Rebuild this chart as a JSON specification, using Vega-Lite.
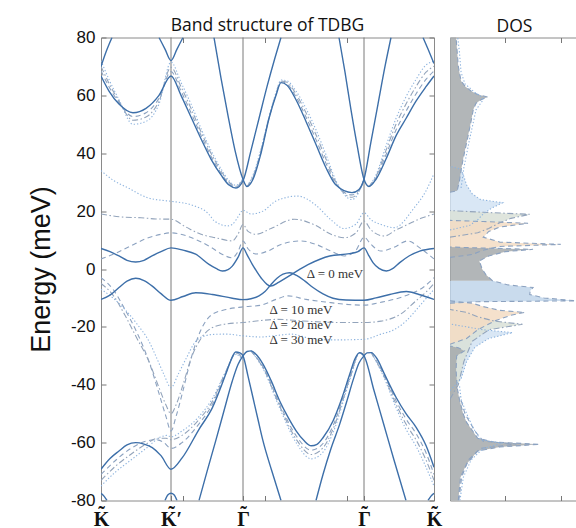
{
"$schema":"https://vega.github.io/schema/vega-lite/v6.json",
"padding":{"left":0,"top":16.5,"right":0,"bottom":0},
"spacing":6,
"config":{"view":{"stroke":"#8a8a8a","strokeWidth":1},"title":{"font":"Open Sans","fontSize":17.5,"fontWeight":"normal","color":"#111","offset":-6,"frame":"group","anchor":"middle"}},
"datasets":{
"bands":[
{"c":"s1","d":"0","q":0,"E":66.7},{"c":"s1","d":"0","q":8,"E":61.5},{"c":"s1","d":"0","q":18,"E":57},{"c":"s1","d":"0","q":32,"E":54},{"c":"s1","d":"0","q":45,"E":55.5},{"c":"s1","d":"0","q":58,"E":60},{"c":"s1","d":"0","q":70,"E":66.7},{"c":"s1","d":"0","q":80,"E":60},{"c":"s1","d":"0","q":90,"E":52.5},{"c":"s1","d":"0","q":100,"E":45},{"c":"s1","d":"0","q":110,"E":38},{"c":"s1","d":"0","q":120,"E":32.5},{"c":"s1","d":"0","q":128,"E":29},{"c":"s1","d":"0","q":135,"E":28},{"c":"s1","d":"0","q":142,"E":30.5},{"c":"s1","d":"0","q":150,"E":41},{"c":"s1","d":"0","q":158,"E":52},{"c":"s1","d":"0","q":166,"E":63},{"c":"s1","d":"0","q":174,"E":73},{"c":"s1","d":"0","q":180,"E":80},
{"c":"s2","d":"0","q":113,"E":80},{"c":"s2","d":"0","q":120,"E":66},{"c":"s2","d":"0","q":127,"E":53},{"c":"s2","d":"0","q":134,"E":41},{"c":"s2","d":"0","q":142,"E":31},{"c":"s2","d":"0","q":146,"E":28.5},{"c":"s2","d":"0","q":152,"E":31},{"c":"s2","d":"0","q":160,"E":40},{"c":"s2","d":"0","q":168,"E":52},{"c":"s2","d":"0","q":175,"E":60},{"c":"s2","d":"0","q":180,"E":64.4},{"c":"s2","d":"0","q":186,"E":63.5},{"c":"s2","d":"0","q":195,"E":58.5},{"c":"s2","d":"0","q":205,"E":51},{"c":"s2","d":"0","q":215,"E":43},{"c":"s2","d":"0","q":225,"E":35},{"c":"s2","d":"0","q":235,"E":29},{"c":"s2","d":"0","q":251,"E":26.4},{"c":"s2","d":"0","q":258,"E":27.5},{"c":"s2","d":"0","q":263,"E":31},{"c":"s2","d":"0","q":270,"E":44},{"c":"s2","d":"0","q":277,"E":57},{"c":"s2","d":"0","q":284,"E":70},{"c":"s2","d":"0","q":290,"E":80},
{"c":"s3","d":"0","q":238,"E":80},{"c":"s3","d":"0","q":244,"E":68},{"c":"s3","d":"0","q":250,"E":55},{"c":"s3","d":"0","q":256,"E":43},{"c":"s3","d":"0","q":263,"E":31},{"c":"s3","d":"0","q":268,"E":28.5},{"c":"s3","d":"0","q":275,"E":31},{"c":"s3","d":"0","q":285,"E":38},{"c":"s3","d":"0","q":295,"E":46},{"c":"s3","d":"0","q":305,"E":52},{"c":"s3","d":"0","q":315,"E":58},{"c":"s3","d":"0","q":325,"E":63},{"c":"s3","d":"0","q":333,"E":66.7},
{"c":"s4","d":"0","q":0,"E":70},{"c":"s4","d":"0","q":5,"E":75},{"c":"s4","d":"0","q":11,"E":80},
{"c":"s5","d":"0","q":58,"E":80},{"c":"s5","d":"0","q":64,"E":76},{"c":"s5","d":"0","q":70,"E":72},{"c":"s5","d":"0","q":76,"E":76},{"c":"s5","d":"0","q":82,"E":80},
{"c":"s6","d":"0","q":322,"E":80},{"c":"s6","d":"0","q":327,"E":76},{"c":"s6","d":"0","q":333,"E":71},
{"c":"s7","d":"0","q":0,"E":7.1},{"c":"s7","d":"0","q":9,"E":6},{"c":"s7","d":"0","q":18,"E":4.5},{"c":"s7","d":"0","q":26,"E":3},{"c":"s7","d":"0","q":34.7,"E":2.4},{"c":"s7","d":"0","q":43,"E":3},{"c":"s7","d":"0","q":51,"E":4.5},{"c":"s7","d":"0","q":60,"E":6},{"c":"s7","d":"0","q":70,"E":7.3},{"c":"s7","d":"0","q":82,"E":6.5},{"c":"s7","d":"0","q":94.7,"E":5.1},{"c":"s7","d":"0","q":108,"E":1.6},{"c":"s7","d":"0","q":115,"E":0.2},{"c":"s7","d":"0","q":121.3,"E":-0.7},{"c":"s7","d":"0","q":127,"E":-0.2},{"c":"s7","d":"0","q":131.3,"E":1},{"c":"s7","d":"0","q":137,"E":4},{"c":"s7","d":"0","q":142,"E":7.3},{"c":"s7","d":"0","q":146,"E":5},{"c":"s7","d":"0","q":151.3,"E":1.6},{"c":"s7","d":"0","q":156,"E":-1},{"c":"s7","d":"0","q":161.3,"E":-3.6},{"c":"s7","d":"0","q":166,"E":-5.3},{"c":"s7","d":"0","q":169.7,"E":-5.9},{"c":"s7","d":"0","q":178,"E":-4.5},{"c":"s7","d":"0","q":190,"E":-2},{"c":"s7","d":"0","q":207,"E":1.5},{"c":"s7","d":"0","q":228.7,"E":4.5},{"c":"s7","d":"0","q":248.7,"E":5.3},{"c":"s7","d":"0","q":257,"E":6},{"c":"s7","d":"0","q":263,"E":7.3},{"c":"s7","d":"0","q":268,"E":4.5},{"c":"s7","d":"0","q":272,"E":2.2},{"c":"s7","d":"0","q":278,"E":0.2},{"c":"s7","d":"0","q":285.3,"E":-0.7},{"c":"s7","d":"0","q":292,"E":0.2},{"c":"s7","d":"0","q":298.7,"E":2.2},{"c":"s7","d":"0","q":308,"E":4.5},{"c":"s7","d":"0","q":318.7,"E":6.2},{"c":"s7","d":"0","q":333,"E":7.1},
{"c":"s8","d":"0","q":0,"E":-10.5},{"c":"s8","d":"0","q":9,"E":-9},{"c":"s8","d":"0","q":18,"E":-6.4},{"c":"s8","d":"0","q":26,"E":-4.2},{"c":"s8","d":"0","q":34.7,"E":-3.2},{"c":"s8","d":"0","q":43,"E":-4},{"c":"s8","d":"0","q":51.3,"E":-5.9},{"c":"s8","d":"0","q":60,"E":-8.5},{"c":"s8","d":"0","q":70,"E":-10.8},{"c":"s8","d":"0","q":82,"E":-9.5},{"c":"s8","d":"0","q":94.7,"E":-8.2},{"c":"s8","d":"0","q":111.3,"E":-8.8},{"c":"s8","d":"0","q":131.3,"E":-10.1},{"c":"s8","d":"0","q":142,"E":-10.6},{"c":"s8","d":"0","q":150,"E":-10.3},{"c":"s8","d":"0","q":158,"E":-9.3},{"c":"s8","d":"0","q":164,"E":-7.8},{"c":"s8","d":"0","q":169.7,"E":-5.5},{"c":"s8","d":"0","q":176,"E":-3.2},{"c":"s8","d":"0","q":182,"E":-1.8},{"c":"s8","d":"0","q":188.7,"E":-1.3},{"c":"s8","d":"0","q":196,"E":-2.3},{"c":"s8","d":"0","q":204,"E":-4.2},{"c":"s8","d":"0","q":212,"E":-6.4},{"c":"s8","d":"0","q":222,"E":-8.6},{"c":"s8","d":"0","q":232,"E":-10.1},{"c":"s8","d":"0","q":245,"E":-10.7},{"c":"s8","d":"0","q":263,"E":-10.8},{"c":"s8","d":"0","q":275,"E":-10},{"c":"s8","d":"0","q":288.7,"E":-8.8},{"c":"s8","d":"0","q":305.3,"E":-7.8},{"c":"s8","d":"0","q":318,"E":-8.8},{"c":"s8","d":"0","q":333,"E":-10.5},
{"c":"s9","d":"0","q":0,"E":-69.2},{"c":"s9","d":"0","q":9,"E":-65.5},{"c":"s9","d":"0","q":18,"E":-62.9},{"c":"s9","d":"0","q":26,"E":-60.8},{"c":"s9","d":"0","q":34.7,"E":-60},{"c":"s9","d":"0","q":43,"E":-60.5},{"c":"s9","d":"0","q":51.3,"E":-61.7},{"c":"s9","d":"0","q":60,"E":-64.5},{"c":"s9","d":"0","q":70,"E":-69.2},{"c":"s9","d":"0","q":81.3,"E":-65.2},{"c":"s9","d":"0","q":98,"E":-55.4},{"c":"s9","d":"0","q":111.3,"E":-48},{"c":"s9","d":"0","q":124.7,"E":-36.4},{"c":"s9","d":"0","q":130,"E":-31.5},{"c":"s9","d":"0","q":134.7,"E":-28.7},{"c":"s9","d":"0","q":139,"E":-29},{"c":"s9","d":"0","q":142,"E":-30},{"c":"s9","d":"0","q":147,"E":-37},{"c":"s9","d":"0","q":152,"E":-44.5},{"c":"s9","d":"0","q":157,"E":-52},{"c":"s9","d":"0","q":162,"E":-59.4},{"c":"s9","d":"0","q":171,"E":-70},{"c":"s9","d":"0","q":180,"E":-80},
{"c":"s10","d":"0","q":98,"E":-80},{"c":"s10","d":"0","q":106,"E":-70},{"c":"s10","d":"0","q":114.7,"E":-59.4},{"c":"s10","d":"0","q":123,"E":-49},{"c":"s10","d":"0","q":131.3,"E":-38.7},{"c":"s10","d":"0","q":137,"E":-33},{"c":"s10","d":"0","q":142,"E":-30},{"c":"s10","d":"0","q":146,"E":-28.5},{"c":"s10","d":"0","q":150,"E":-28.3},{"c":"s10","d":"0","q":155,"E":-29.5},{"c":"s10","d":"0","q":162,"E":-32.9},{"c":"s10","d":"0","q":170,"E":-38.5},{"c":"s10","d":"0","q":178.7,"E":-45.6},{"c":"s10","d":"0","q":187,"E":-51.2},{"c":"s10","d":"0","q":195.3,"E":-56},{"c":"s10","d":"0","q":203,"E":-59.3},{"c":"s10","d":"0","q":210.3,"E":-61.1},{"c":"s10","d":"0","q":216,"E":-60.6},{"c":"s10","d":"0","q":222,"E":-58.3},{"c":"s10","d":"0","q":232,"E":-52.5},{"c":"s10","d":"0","q":240,"E":-45.5},{"c":"s10","d":"0","q":248.7,"E":-36.4},{"c":"s10","d":"0","q":254,"E":-31},{"c":"s10","d":"0","q":258.7,"E":-28.9},{"c":"s10","d":"0","q":263,"E":-30},{"c":"s10","d":"0","q":273,"E":-42},{"c":"s10","d":"0","q":283,"E":-54},{"c":"s10","d":"0","q":293,"E":-66},{"c":"s10","d":"0","q":305,"E":-80},
{"c":"s11","d":"0","q":215,"E":-80},{"c":"s11","d":"0","q":222,"E":-71},{"c":"s11","d":"0","q":230,"E":-62},{"c":"s11","d":"0","q":238.7,"E":-53.6},{"c":"s11","d":"0","q":246,"E":-45.5},{"c":"s11","d":"0","q":252,"E":-38.5},{"c":"s11","d":"0","q":258,"E":-32.5},{"c":"s11","d":"0","q":263,"E":-30},{"c":"s11","d":"0","q":266,"E":-29},{"c":"s11","d":"0","q":270.3,"E":-28.9},{"c":"s11","d":"0","q":276,"E":-31},{"c":"s11","d":"0","q":283,"E":-36},{"c":"s11","d":"0","q":295.3,"E":-44.5},{"c":"s11","d":"0","q":305,"E":-50},{"c":"s11","d":"0","q":315.3,"E":-54.8},{"c":"s11","d":"0","q":325,"E":-61},{"c":"s11","d":"0","q":333,"E":-68.5},
{"c":"s12","d":"0","q":0,"E":-77.5},{"c":"s12","d":"0","q":3,"E":-78.5},{"c":"s12","d":"0","q":6,"E":-80},
{"c":"s13","d":"0","q":64,"E":-80},{"c":"s13","d":"0","q":67,"E":-78},{"c":"s13","d":"0","q":70,"E":-77.5},{"c":"s13","d":"0","q":73,"E":-78},{"c":"s13","d":"0","q":76,"E":-80},
{"c":"s14","d":"0","q":327,"E":-80},{"c":"s14","d":"0","q":330,"E":-78.5},{"c":"s14","d":"0","q":333,"E":-77.5},
{"c":"u10","d":"10","q":0,"E":3.5},{"c":"u10","d":"10","q":15,"E":5.5},{"c":"u10","d":"10","q":30,"E":8},{"c":"u10","d":"10","q":45,"E":10.5},{"c":"u10","d":"10","q":60,"E":12},{"c":"u10","d":"10","q":70,"E":12.5},{"c":"u10","d":"10","q":85,"E":11.5},{"c":"u10","d":"10","q":98,"E":9.7},{"c":"u10","d":"10","q":110,"E":7.5},{"c":"u10","d":"10","q":121,"E":5.1},{"c":"u10","d":"10","q":131,"E":3.9},{"c":"u10","d":"10","q":137,"E":6},{"c":"u10","d":"10","q":142,"E":9.7},{"c":"u10","d":"10","q":147,"E":7},{"c":"u10","d":"10","q":155,"E":5.2},{"c":"u10","d":"10","q":166.7,"E":6.2},{"c":"u10","d":"10","q":180,"E":8.5},{"c":"u10","d":"10","q":200,"E":9.7},{"c":"u10","d":"10","q":215,"E":8.5},{"c":"u10","d":"10","q":230,"E":6.2},{"c":"u10","d":"10","q":243.3,"E":4.5},{"c":"u10","d":"10","q":255,"E":6.5},{"c":"u10","d":"10","q":263,"E":11},{"c":"u10","d":"10","q":270,"E":8.5},{"c":"u10","d":"10","q":280,"E":6.2},{"c":"u10","d":"10","q":293,"E":7.5},{"c":"u10","d":"10","q":306.7,"E":9.7},{"c":"u10","d":"10","q":320,"E":7},{"c":"u10","d":"10","q":333,"E":3.5},
{"c":"u20","d":"20","q":0,"E":19},{"c":"u20","d":"20","q":20,"E":18},{"c":"u20","d":"20","q":40,"E":17.7},{"c":"u20","d":"20","q":55,"E":17.3},{"c":"u20","d":"20","q":70,"E":17.2},{"c":"u20","d":"20","q":85,"E":14.5},{"c":"u20","d":"20","q":100,"E":12},{"c":"u20","d":"20","q":114.7,"E":10.8},{"c":"u20","d":"20","q":131.3,"E":9.7},{"c":"u20","d":"20","q":137,"E":12},{"c":"u20","d":"20","q":142,"E":15.4},{"c":"u20","d":"20","q":147,"E":13},{"c":"u20","d":"20","q":155,"E":12},{"c":"u20","d":"20","q":170,"E":14},{"c":"u20","d":"20","q":193.3,"E":17.2},{"c":"u20","d":"20","q":215,"E":15},{"c":"u20","d":"20","q":230,"E":12},{"c":"u20","d":"20","q":243.3,"E":10.8},{"c":"u20","d":"20","q":255,"E":12.5},{"c":"u20","d":"20","q":263,"E":16.6},{"c":"u20","d":"20","q":270,"E":13.5},{"c":"u20","d":"20","q":283.3,"E":11.4},{"c":"u20","d":"20","q":295,"E":13.5},{"c":"u20","d":"20","q":306.7,"E":15.4},{"c":"u20","d":"20","q":320,"E":17.5},{"c":"u20","d":"20","q":333,"E":19},
{"c":"u30","d":"30","q":0,"E":34},{"c":"u30","d":"30","q":13,"E":30.5},{"c":"u30","d":"30","q":26.7,"E":28.1},{"c":"u30","d":"30","q":46.7,"E":24.6},{"c":"u30","d":"30","q":64.7,"E":23.6},{"c":"u30","d":"30","q":70,"E":23.4},{"c":"u30","d":"30","q":93.3,"E":21.8},{"c":"u30","d":"30","q":108,"E":18.9},{"c":"u30","d":"30","q":113.3,"E":16.6},{"c":"u30","d":"30","q":126.7,"E":14.9},{"c":"u30","d":"30","q":131.3,"E":15.4},{"c":"u30","d":"30","q":137,"E":18},{"c":"u30","d":"30","q":142,"E":20.3},{"c":"u30","d":"30","q":150,"E":19},{"c":"u30","d":"30","q":162,"E":20},{"c":"u30","d":"30","q":175,"E":23.5},{"c":"u30","d":"30","q":196.7,"E":25.2},{"c":"u30","d":"30","q":215,"E":22},{"c":"u30","d":"30","q":230,"E":17},{"c":"u30","d":"30","q":243,"E":14},{"c":"u30","d":"30","q":255,"E":15.5},{"c":"u30","d":"30","q":263,"E":19.4},{"c":"u30","d":"30","q":270,"E":17},{"c":"u30","d":"30","q":280,"E":15.4},{"c":"u30","d":"30","q":293.3,"E":14.3},{"c":"u30","d":"30","q":313.3,"E":21.2},{"c":"u30","d":"30","q":325,"E":27},{"c":"u30","d":"30","q":333,"E":33},
{"c":"l10","d":"10","q":0,"E":-3},{"c":"l10","d":"10","q":12,"E":-7},{"c":"l10","d":"10","q":24,"E":-14},{"c":"l10","d":"10","q":36,"E":-22},{"c":"l10","d":"10","q":48,"E":-32},{"c":"l10","d":"10","q":58,"E":-43},{"c":"l10","d":"10","q":65,"E":-51},{"c":"l10","d":"10","q":70,"E":-56},{"c":"l10","d":"10","q":75,"E":-51},{"c":"l10","d":"10","q":82,"E":-42},{"c":"l10","d":"10","q":90,"E":-31},{"c":"l10","d":"10","q":100,"E":-21},{"c":"l10","d":"10","q":110,"E":-16},{"c":"l10","d":"10","q":125,"E":-14},{"c":"l10","d":"10","q":142,"E":-13.1},{"c":"l10","d":"10","q":160,"E":-12.5},{"c":"l10","d":"10","q":175,"E":-10.5},{"c":"l10","d":"10","q":187,"E":-9.3},{"c":"l10","d":"10","q":205,"E":-10.5},{"c":"l10","d":"10","q":226.7,"E":-11.5},{"c":"l10","d":"10","q":245,"E":-12.2},{"c":"l10","d":"10","q":263,"E":-12.5},{"c":"l10","d":"10","q":280,"E":-11.5},{"c":"l10","d":"10","q":293,"E":-10.5},{"c":"l10","d":"10","q":310,"E":-8.5},{"c":"l10","d":"10","q":322,"E":-6.4},{"c":"l10","d":"10","q":333,"E":-3},
{"c":"l20","d":"20","q":0,"E":-5},{"c":"l20","d":"20","q":12,"E":-9},{"c":"l20","d":"20","q":24,"E":-16},{"c":"l20","d":"20","q":36,"E":-24},{"c":"l20","d":"20","q":48,"E":-32},{"c":"l20","d":"20","q":58,"E":-41},{"c":"l20","d":"20","q":65,"E":-47},{"c":"l20","d":"20","q":70,"E":-50},{"c":"l20","d":"20","q":75,"E":-47},{"c":"l20","d":"20","q":82,"E":-40},{"c":"l20","d":"20","q":90,"E":-31},{"c":"l20","d":"20","q":100,"E":-24},{"c":"l20","d":"20","q":110,"E":-20.5},{"c":"l20","d":"20","q":125,"E":-19},{"c":"l20","d":"20","q":142,"E":-18.5},{"c":"l20","d":"20","q":160,"E":-17.8},{"c":"l20","d":"20","q":176.7,"E":-17.4},{"c":"l20","d":"20","q":195,"E":-17.8},{"c":"l20","d":"20","q":220,"E":-18.3},{"c":"l20","d":"20","q":245,"E":-18.5},{"c":"l20","d":"20","q":263,"E":-18.5},{"c":"l20","d":"20","q":280,"E":-18},{"c":"l20","d":"20","q":300,"E":-15.5},{"c":"l20","d":"20","q":315,"E":-11},{"c":"l20","d":"20","q":325,"E":-8},{"c":"l20","d":"20","q":333,"E":-5},
{"c":"l30","d":"30","q":0,"E":-7},{"c":"l30","d":"30","q":12,"E":-10},{"c":"l30","d":"30","q":24,"E":-14},{"c":"l30","d":"30","q":36,"E":-19},{"c":"l30","d":"30","q":48,"E":-25},{"c":"l30","d":"30","q":56,"E":-31},{"c":"l30","d":"30","q":63,"E":-36.5},{"c":"l30","d":"30","q":70,"E":-41},{"c":"l30","d":"30","q":77,"E":-36.5},{"c":"l30","d":"30","q":85,"E":-31},{"c":"l30","d":"30","q":94.7,"E":-25},{"c":"l30","d":"30","q":105,"E":-23},{"c":"l30","d":"30","q":113,"E":-22.6},{"c":"l30","d":"30","q":125,"E":-22.5},{"c":"l30","d":"30","q":142,"E":-23.1},{"c":"l30","d":"30","q":160,"E":-23.5},{"c":"l30","d":"30","q":175,"E":-23},{"c":"l30","d":"30","q":190,"E":-22.5},{"c":"l30","d":"30","q":210,"E":-24},{"c":"l30","d":"30","q":235,"E":-24.5},{"c":"l30","d":"30","q":263,"E":-24.3},{"c":"l30","d":"30","q":280,"E":-22.5},{"c":"l30","d":"30","q":293,"E":-21},{"c":"l30","d":"30","q":305,"E":-18},{"c":"l30","d":"30","q":318,"E":-13},{"c":"l30","d":"30","q":333,"E":-7},
{"c":"a10","d":"10","q":0,"E":68.5},{"c":"a10","d":"10","q":8,"E":63},{"c":"a10","d":"10","q":18,"E":57.5},{"c":"a10","d":"10","q":32,"E":52.7},{"c":"a10","d":"10","q":45,"E":54},{"c":"a10","d":"10","q":58,"E":59},{"c":"a10","d":"10","q":70,"E":68.2},{"c":"a10","d":"10","q":80,"E":61.5},{"c":"a10","d":"10","q":90,"E":54},{"c":"a10","d":"10","q":100,"E":46.2},{"c":"a10","d":"10","q":110,"E":39},{"c":"a10","d":"10","q":120,"E":33.2},{"c":"a10","d":"10","q":128,"E":29.5},{"c":"a10","d":"10","q":135,"E":28.3},{"c":"a10","d":"10","q":142,"E":30.8},
{"c":"a20","d":"20","q":0,"E":70},{"c":"a20","d":"20","q":8,"E":64.2},{"c":"a20","d":"20","q":18,"E":58},{"c":"a20","d":"20","q":32,"E":51.4},{"c":"a20","d":"20","q":45,"E":52.5},{"c":"a20","d":"20","q":58,"E":58},{"c":"a20","d":"20","q":70,"E":69.7},{"c":"a20","d":"20","q":80,"E":63},{"c":"a20","d":"20","q":90,"E":55.5},{"c":"a20","d":"20","q":100,"E":47.4},{"c":"a20","d":"20","q":110,"E":40},{"c":"a20","d":"20","q":120,"E":33.9},{"c":"a20","d":"20","q":128,"E":30},{"c":"a20","d":"20","q":135,"E":28.6},{"c":"a20","d":"20","q":142,"E":31},
{"c":"a30","d":"30","q":0,"E":72},{"c":"a30","d":"30","q":8,"E":65.5},{"c":"a30","d":"30","q":18,"E":58.5},{"c":"a30","d":"30","q":32,"E":50},{"c":"a30","d":"30","q":45,"E":51},{"c":"a30","d":"30","q":58,"E":57},{"c":"a30","d":"30","q":70,"E":71.5},{"c":"a30","d":"30","q":80,"E":64.5},{"c":"a30","d":"30","q":90,"E":57},{"c":"a30","d":"30","q":100,"E":48.6},{"c":"a30","d":"30","q":110,"E":41},{"c":"a30","d":"30","q":120,"E":34.6},{"c":"a30","d":"30","q":128,"E":30.5},{"c":"a30","d":"30","q":135,"E":28.9},{"c":"a30","d":"30","q":142,"E":31.2},
{"c":"b10","d":"10","q":146,"E":28.5},{"c":"b10","d":"10","q":152,"E":31.5},{"c":"b10","d":"10","q":160,"E":40.5},{"c":"b10","d":"10","q":168,"E":52.2},{"c":"b10","d":"10","q":175,"E":60.3},{"c":"b10","d":"10","q":180,"E":64.7},{"c":"b10","d":"10","q":186,"E":64},{"c":"b10","d":"10","q":195,"E":59.5},{"c":"b10","d":"10","q":205,"E":52.5},{"c":"b10","d":"10","q":215,"E":44.7},{"c":"b10","d":"10","q":225,"E":36.5},{"c":"b10","d":"10","q":235,"E":29.5},{"c":"b10","d":"10","q":251,"E":25.6},{"c":"b10","d":"10","q":258,"E":27.2},{"c":"b10","d":"10","q":263,"E":31},
{"c":"b20","d":"20","q":146,"E":28.5},{"c":"b20","d":"20","q":152,"E":32},{"c":"b20","d":"20","q":160,"E":41},{"c":"b20","d":"20","q":168,"E":52.4},{"c":"b20","d":"20","q":175,"E":60.6},{"c":"b20","d":"20","q":180,"E":65},{"c":"b20","d":"20","q":186,"E":64.5},{"c":"b20","d":"20","q":195,"E":60.5},{"c":"b20","d":"20","q":205,"E":54},{"c":"b20","d":"20","q":215,"E":46.4},{"c":"b20","d":"20","q":225,"E":38},{"c":"b20","d":"20","q":235,"E":30},{"c":"b20","d":"20","q":251,"E":24.8},{"c":"b20","d":"20","q":258,"E":26.9},{"c":"b20","d":"20","q":263,"E":31},
{"c":"b30","d":"30","q":146,"E":28.5},{"c":"b30","d":"30","q":152,"E":32.5},{"c":"b30","d":"30","q":160,"E":41.5},{"c":"b30","d":"30","q":168,"E":52.6},{"c":"b30","d":"30","q":175,"E":60.9},{"c":"b30","d":"30","q":180,"E":65.3},{"c":"b30","d":"30","q":186,"E":65},{"c":"b30","d":"30","q":195,"E":61.5},{"c":"b30","d":"30","q":205,"E":55.5},{"c":"b30","d":"30","q":215,"E":48.1},{"c":"b30","d":"30","q":225,"E":39.5},{"c":"b30","d":"30","q":235,"E":30.5},{"c":"b30","d":"30","q":251,"E":24},{"c":"b30","d":"30","q":258,"E":26.6},{"c":"b30","d":"30","q":263,"E":31},
{"c":"c10","d":"10","q":268,"E":28.5},{"c":"c10","d":"10","q":275,"E":31.5},{"c":"c10","d":"10","q":285,"E":39.5},{"c":"c10","d":"10","q":295,"E":48},{"c":"c10","d":"10","q":305,"E":54.5},{"c":"c10","d":"10","q":315,"E":60.5},{"c":"c10","d":"10","q":325,"E":65.5},{"c":"c10","d":"10","q":333,"E":68.4},
{"c":"c20","d":"20","q":268,"E":28.5},{"c":"c20","d":"20","q":275,"E":32},{"c":"c20","d":"20","q":285,"E":41},{"c":"c20","d":"20","q":295,"E":50},{"c":"c20","d":"20","q":305,"E":57},{"c":"c20","d":"20","q":315,"E":63},{"c":"c20","d":"20","q":325,"E":68},{"c":"c20","d":"20","q":333,"E":70.1},
{"c":"c30","d":"30","q":268,"E":28.5},{"c":"c30","d":"30","q":275,"E":32.5},{"c":"c30","d":"30","q":285,"E":42.5},{"c":"c30","d":"30","q":295,"E":52},{"c":"c30","d":"30","q":305,"E":59.5},{"c":"c30","d":"30","q":315,"E":65.5},{"c":"c30","d":"30","q":325,"E":70.5},{"c":"c30","d":"30","q":333,"E":71.8},
{"c":"d10","d":"10","q":0,"E":-71},{"c":"d10","d":"10","q":15,"E":-66},{"c":"d10","d":"10","q":30,"E":-62},{"c":"d10","d":"10","q":45,"E":-59.5},{"c":"d10","d":"10","q":55,"E":-59},{"c":"d10","d":"10","q":63,"E":-60},{"c":"d10","d":"10","q":70,"E":-62},{"c":"d10","d":"10","q":81,"E":-60},{"c":"d10","d":"10","q":98,"E":-53.5},{"c":"d10","d":"10","q":111,"E":-47},{"c":"d10","d":"10","q":124.7,"E":-36},{"c":"d10","d":"10","q":134.7,"E":-29},{"c":"d10","d":"10","q":142,"E":-30.5},
{"c":"d20","d":"20","q":0,"E":-73},{"c":"d20","d":"20","q":15,"E":-68},{"c":"d20","d":"20","q":30,"E":-64},{"c":"d20","d":"20","q":45,"E":-60.5},{"c":"d20","d":"20","q":57,"E":-58.5},{"c":"d20","d":"20","q":65,"E":-58.5},{"c":"d20","d":"20","q":70,"E":-59},{"c":"d20","d":"20","q":81,"E":-57.5},{"c":"d20","d":"20","q":98,"E":-52},{"c":"d20","d":"20","q":111,"E":-46},{"c":"d20","d":"20","q":124.7,"E":-35.5},{"c":"d20","d":"20","q":134.7,"E":-29.3},{"c":"d20","d":"20","q":142,"E":-31},
{"c":"d30","d":"30","q":0,"E":-75},{"c":"d30","d":"30","q":15,"E":-70},{"c":"d30","d":"30","q":30,"E":-66},{"c":"d30","d":"30","q":45,"E":-62},{"c":"d30","d":"30","q":60,"E":-58},{"c":"d30","d":"30","q":66,"E":-57.5},{"c":"d30","d":"30","q":70,"E":-58},{"c":"d30","d":"30","q":81,"E":-56},{"c":"d30","d":"30","q":98,"E":-51},{"c":"d30","d":"30","q":111,"E":-45},{"c":"d30","d":"30","q":124.7,"E":-35.5},{"c":"d30","d":"30","q":134.7,"E":-29.5},{"c":"d30","d":"30","q":142,"E":-31.5},
{"c":"e10","d":"10","q":150,"E":-28.3},{"c":"e10","d":"10","q":162,"E":-33.8},{"c":"e10","d":"10","q":178.7,"E":-46.7},{"c":"e10","d":"10","q":195.3,"E":-57.7},{"c":"e10","d":"10","q":210.3,"E":-62.6},{"c":"e10","d":"10","q":222,"E":-60.3},{"c":"e10","d":"10","q":232,"E":-54.2},{"c":"e10","d":"10","q":248.7,"E":-37.5},{"c":"e10","d":"10","q":258.7,"E":-29},{"c":"e10","d":"10","q":263,"E":-30},
{"c":"e20","d":"20","q":150,"E":-28.3},{"c":"e20","d":"20","q":162,"E":-34.1},{"c":"e20","d":"20","q":178.7,"E":-47.4},{"c":"e20","d":"20","q":195.3,"E":-58.9},{"c":"e20","d":"20","q":210.3,"E":-64.1},{"c":"e20","d":"20","q":222,"E":-61.8},{"c":"e20","d":"20","q":232,"E":-55.4},{"c":"e20","d":"20","q":248.7,"E":-38},{"c":"e20","d":"20","q":258.7,"E":-29},{"c":"e20","d":"20","q":263,"E":-30},
{"c":"e30","d":"30","q":150,"E":-28.3},{"c":"e30","d":"30","q":162,"E":-34.4},{"c":"e30","d":"30","q":178.7,"E":-48.1},{"c":"e30","d":"30","q":195.3,"E":-60.1},{"c":"e30","d":"30","q":210.3,"E":-65.6},{"c":"e30","d":"30","q":222,"E":-63.3},{"c":"e30","d":"30","q":232,"E":-56.6},{"c":"e30","d":"30","q":248.7,"E":-38.5},{"c":"e30","d":"30","q":258.7,"E":-29},{"c":"e30","d":"30","q":263,"E":-30},
{"c":"f10","d":"10","q":270.3,"E":-28.9},{"c":"f10","d":"10","q":283,"E":-36.5},{"c":"f10","d":"10","q":295.3,"E":-45.7},{"c":"f10","d":"10","q":305,"E":-51.8},{"c":"f10","d":"10","q":315.3,"E":-57},{"c":"f10","d":"10","q":325,"E":-63.5},{"c":"f10","d":"10","q":333,"E":-71},
{"c":"f20","d":"20","q":270.3,"E":-28.9},{"c":"f20","d":"20","q":283,"E":-37},{"c":"f20","d":"20","q":295.3,"E":-46.9},{"c":"f20","d":"20","q":305,"E":-53.6},{"c":"f20","d":"20","q":315.3,"E":-59.2},{"c":"f20","d":"20","q":325,"E":-66},{"c":"f20","d":"20","q":333,"E":-73},
{"c":"f30","d":"30","q":270.3,"E":-28.9},{"c":"f30","d":"30","q":283,"E":-37.5},{"c":"f30","d":"30","q":295.3,"E":-48.1},{"c":"f30","d":"30","q":305,"E":-55.4},{"c":"f30","d":"30","q":315.3,"E":-61.4},{"c":"f30","d":"30","q":325,"E":-68.5},{"c":"f30","d":"30","q":333,"E":-75}
],
"dos":[
{"s":"0","g":"0c","f":"gray","E":26.5,"v":0},{"s":"0","g":"0c","f":"gray","E":27,"v":0.13},{"s":"0","g":"0c","f":"gray","E":30.4,"v":0.17},{"s":"0","g":"0c","f":"gray","E":34,"v":0.2},{"s":"0","g":"0c","f":"gray","E":37.3,"v":0.23},{"s":"0","g":"0c","f":"gray","E":41,"v":0.27},{"s":"0","g":"0c","f":"gray","E":45.4,"v":0.32},{"s":"0","g":"0c","f":"gray","E":51,"v":0.38},{"s":"0","g":"0c","f":"gray","E":55,"v":0.42},{"s":"0","g":"0c","f":"gray","E":57.3,"v":0.47},{"s":"0","g":"0c","f":"gray","E":58.5,"v":0.56},{"s":"0","g":"0c","f":"gray","E":59.4,"v":0.68},{"s":"0","g":"0c","f":"gray","E":60.3,"v":0.5},{"s":"0","g":"0c","f":"gray","E":61.5,"v":0.38},{"s":"0","g":"0c","f":"gray","E":63,"v":0.28},{"s":"0","g":"0c","f":"gray","E":65,"v":0.2},{"s":"0","g":"0c","f":"gray","E":70,"v":0.15},{"s":"0","g":"0c","f":"gray","E":75,"v":0.13},{"s":"0","g":"0c","f":"gray","E":80,"v":0.11},
{"s":"0","g":"0f","f":"blue","E":-11.8,"v":0},{"s":"0","g":"0f","f":"blue","E":-11.3,"v":0.5},{"s":"0","g":"0f","f":"blue","E":-11,"v":2.27},{"s":"0","g":"0f","f":"blue","E":-10,"v":1.7},{"s":"0","g":"0f","f":"blue","E":-8.8,"v":1.44},{"s":"0","g":"0f","f":"blue","E":-7.5,"v":1.45},{"s":"0","g":"0f","f":"blue","E":-6.4,"v":1.5},{"s":"0","g":"0f","f":"blue","E":-5.5,"v":1.05},{"s":"0","g":"0f","f":"blue","E":-4.1,"v":0.77},
{"s":"0","g":"0g","f":"gray","E":-4.1,"v":0.77},{"s":"0","g":"0g","f":"gray","E":-2,"v":0.65},{"s":"0","g":"0g","f":"gray","E":0,"v":0.58},{"s":"0","g":"0g","f":"gray","E":2.8,"v":0.53},{"s":"0","g":"0g","f":"gray","E":4.5,"v":0.7},{"s":"0","g":"0g","f":"gray","E":6,"v":1.0},{"s":"0","g":"0g","f":"gray","E":6.8,"v":1.5},{"s":"0","g":"0g","f":"gray","E":7.3,"v":0.5},{"s":"0","g":"0g","f":"gray","E":7.6,"v":0},
{"s":"0","g":"0v","f":"gray","E":-80,"v":0.15},{"s":"0","g":"0v","f":"gray","E":-76,"v":0.17},{"s":"0","g":"0v","f":"gray","E":-72,"v":0.19},{"s":"0","g":"0v","f":"gray","E":-67.4,"v":0.3},{"s":"0","g":"0v","f":"gray","E":-62.9,"v":0.5},{"s":"0","g":"0v","f":"gray","E":-61.5,"v":0.9},{"s":"0","g":"0v","f":"gray","E":-60.6,"v":1.62},{"s":"0","g":"0v","f":"gray","E":-59.8,"v":0.8},{"s":"0","g":"0v","f":"gray","E":-58.5,"v":0.5},{"s":"0","g":"0v","f":"gray","E":-56,"v":0.41},{"s":"0","g":"0v","f":"gray","E":-53,"v":0.3},{"s":"0","g":"0v","f":"gray","E":-50.2,"v":0.24},{"s":"0","g":"0v","f":"gray","E":-45,"v":0.17},{"s":"0","g":"0v","f":"gray","E":-41,"v":0.13},{"s":"0","g":"0v","f":"gray","E":-35,"v":0.11},{"s":"0","g":"0v","f":"gray","E":-30,"v":0.12},{"s":"0","g":"0v","f":"gray","E":-28.3,"v":0.26},{"s":"0","g":"0v","f":"gray","E":-27.2,"v":0.15},{"s":"0","g":"0v","f":"gray","E":-26.6,"v":0},
{"s":"10","g":"10u","f":"peach","E":4,"v":0},{"s":"10","g":"10u","f":"peach","E":5,"v":0.4},{"s":"10","g":"10u","f":"peach","E":6.5,"v":0.6},{"s":"10","g":"10u","f":"peach","E":7.8,"v":0.9},{"s":"10","g":"10u","f":"peach","E":8.5,"v":2.0},{"s":"10","g":"10u","f":"peach","E":9.3,"v":0.9},{"s":"10","g":"10u","f":"peach","E":11,"v":0.6},{"s":"10","g":"10u","f":"peach","E":13,"v":0.7},{"s":"10","g":"10u","f":"peach","E":14.5,"v":0.9},{"s":"10","g":"10u","f":"peach","E":15.8,"v":1.41},{"s":"10","g":"10u","f":"peach","E":16.4,"v":0.6},{"s":"10","g":"10u","f":"peach","E":16.8,"v":0},
{"s":"10","g":"10l","f":"peach","E":-26,"v":0},{"s":"10","g":"10l","f":"peach","E":-24,"v":0.3},{"s":"10","g":"10l","f":"peach","E":-21,"v":0.5},{"s":"10","g":"10l","f":"peach","E":-18,"v":0.8},{"s":"10","g":"10l","f":"peach","E":-16,"v":1.1},{"s":"10","g":"10l","f":"peach","E":-15,"v":1.35},{"s":"10","g":"10l","f":"peach","E":-14.3,"v":0.9},{"s":"10","g":"10l","f":"peach","E":-13,"v":0.6},{"s":"10","g":"10l","f":"peach","E":-11.8,"v":0.4},{"s":"10","g":"10l","f":"peach","E":-11,"v":0},
{"s":"10","g":"10v","f":"none","E":-80,"v":0.16},{"s":"10","g":"10v","f":"none","E":-72,"v":0.21},{"s":"10","g":"10v","f":"none","E":-66,"v":0.33},{"s":"10","g":"10v","f":"none","E":-62,"v":0.55},{"s":"10","g":"10v","f":"none","E":-60.5,"v":1.2},{"s":"10","g":"10v","f":"none","E":-59.5,"v":0.6},{"s":"10","g":"10v","f":"none","E":-56,"v":0.45},{"s":"10","g":"10v","f":"none","E":-50,"v":0.27},{"s":"10","g":"10v","f":"none","E":-44,"v":0.18},
{"s":"20","g":"20u","f":"green","E":11,"v":0},{"s":"20","g":"20u","f":"green","E":12.5,"v":0.5},{"s":"20","g":"20u","f":"green","E":14,"v":0.7},{"s":"20","g":"20u","f":"green","E":16,"v":0.9},{"s":"20","g":"20u","f":"green","E":17.5,"v":1.1},{"s":"20","g":"20u","f":"green","E":18.9,"v":1.44},{"s":"20","g":"20u","f":"green","E":19.6,"v":0.6},{"s":"20","g":"20u","f":"green","E":20.2,"v":0},
{"s":"20","g":"20l","f":"green","E":-45,"v":0},{"s":"20","g":"20l","f":"green","E":-40,"v":0.15},{"s":"20","g":"20l","f":"green","E":-32,"v":0.25},{"s":"20","g":"20l","f":"green","E":-25,"v":0.4},{"s":"20","g":"20l","f":"green","E":-21,"v":0.7},{"s":"20","g":"20l","f":"green","E":-19.1,"v":1.31},{"s":"20","g":"20l","f":"green","E":-18,"v":0.8},{"s":"20","g":"20l","f":"green","E":-16.5,"v":0.5},{"s":"20","g":"20l","f":"green","E":-15,"v":0.3},{"s":"20","g":"20l","f":"green","E":-14,"v":0},
{"s":"30","g":"30u","f":"lblue","E":13.5,"v":0},{"s":"30","g":"30u","f":"lblue","E":15,"v":0.35},{"s":"30","g":"30u","f":"lblue","E":17,"v":0.5},{"s":"30","g":"30u","f":"lblue","E":19,"v":0.6},{"s":"30","g":"30u","f":"lblue","E":21,"v":0.75},{"s":"30","g":"30u","f":"lblue","E":22.9,"v":0.95},{"s":"30","g":"30u","f":"lblue","E":24,"v":0.55},{"s":"30","g":"30u","f":"lblue","E":26,"v":0.4},{"s":"30","g":"30u","f":"lblue","E":29,"v":0.3},{"s":"30","g":"30u","f":"lblue","E":32,"v":0.25},{"s":"30","g":"30u","f":"lblue","E":34.5,"v":0.2},{"s":"30","g":"30u","f":"lblue","E":35.5,"v":0},
{"s":"30","g":"30l","f":"lblue","E":-42,"v":0},{"s":"30","g":"30l","f":"lblue","E":-38,"v":0.2},{"s":"30","g":"30l","f":"lblue","E":-32,"v":0.3},{"s":"30","g":"30l","f":"lblue","E":-27,"v":0.45},{"s":"30","g":"30l","f":"lblue","E":-24,"v":0.7},{"s":"30","g":"30l","f":"lblue","E":-22,"v":1.13},{"s":"30","g":"30l","f":"lblue","E":-21,"v":0.6},{"s":"30","g":"30l","f":"lblue","E":-20,"v":0.3},{"s":"30","g":"30l","f":"lblue","E":-19,"v":0},
{"s":"30","g":"30c","f":"none","E":28,"v":0.2},{"s":"30","g":"30c","f":"none","E":35,"v":0.25},{"s":"30","g":"30c","f":"none","E":45.4,"v":0.36},{"s":"30","g":"30c","f":"none","E":55,"v":0.47},{"s":"30","g":"30c","f":"none","E":58.5,"v":0.6},{"s":"30","g":"30c","f":"none","E":59.8,"v":0.55},{"s":"30","g":"30c","f":"none","E":61,"v":0.45},{"s":"30","g":"30c","f":"none","E":64,"v":0.27},{"s":"30","g":"30c","f":"none","E":68,"v":0.2},{"s":"30","g":"30c","f":"none","E":75,"v":0.17},{"s":"30","g":"30c","f":"none","E":80,"v":0.14},
{"s":"30","g":"30v","f":"none","E":-80,"v":0.18},{"s":"30","g":"30v","f":"none","E":-72,"v":0.24},{"s":"30","g":"30v","f":"none","E":-66,"v":0.38},{"s":"30","g":"30v","f":"none","E":-62,"v":0.6},{"s":"30","g":"30v","f":"none","E":-60.2,"v":0.95},{"s":"30","g":"30v","f":"none","E":-59,"v":0.55},{"s":"30","g":"30v","f":"none","E":-55,"v":0.42},{"s":"30","g":"30v","f":"none","E":-50,"v":0.3},{"s":"30","g":"30v","f":"none","E":-45,"v":0.2},{"s":"30","g":"30v","f":"none","E":-40,"v":0.17}
]
},
"hconcat":[
{
"width":333,"height":463,
"title":{"text":"Band structure of TDBG"},
"layer":[
{"data":{"values":[{"q":70},{"q":142},{"q":263}]},
 "mark":{"type":"rule","color":"#7a7a7a","strokeWidth":1},
 "encoding":{"x":{"field":"q","type":"quantitative","scale":{"domain":[0,333],"nice":false,"zero":false},"axis":null}}},
{"data":{"name":"bands"},
 "transform":[{"filter":"datum.d != '0'"}],
 "mark":{"type":"line","interpolate":"monotone","strokeWidth":1.1,"clip":true},
 "encoding":{
  "x":{"field":"q","type":"quantitative","scale":{"domain":[0,333],"nice":false,"zero":false},"axis":{"orient":"top","values":[82,164,246],"labels":false,"tickSize":-5,"tickColor":"#777","domain":false,"grid":false,"title":null,"minExtent":0,"maxExtent":0}},
  "y":{"field":"E","type":"quantitative","scale":{"domain":[-80,80],"nice":false},"axis":{"orient":"right","values":[-80,-60,-40,-20,0,20,40,60,80],"labels":false,"tickSize":-5,"tickColor":"#777","domain":false,"grid":false,"title":null,"minExtent":0,"maxExtent":0}},
  "detail":{"field":"c","type":"nominal"},
  "color":{"field":"d","type":"nominal","scale":{"domain":["10","20","30"],"range":["#8ca2c0","#93a4bb","#8db3de"]},"legend":null},
  "strokeDash":{"field":"d","type":"nominal","scale":{"domain":["10","20","30"],"range":[[5,3.5],[6,2.5,1.5,2.5],[1.3,2]]},"legend":null}
 }},
{"data":{"name":"bands"},
 "transform":[{"filter":"datum.d == '0'"}],
 "mark":{"type":"line","interpolate":"monotone","strokeWidth":1.4,"color":"#3d6fa9","clip":true},
 "encoding":{
  "x":{"field":"q","type":"quantitative","scale":{"domain":[0,333],"nice":false,"zero":false},"axis":{"orient":"bottom","values":[0,70,82,142,164,246,263,333],"labelExpr":"datum.value==0||datum.value==333?['\u02dc','K']:datum.value==70?['\u02dc ','K\u2032']:(datum.value==142||datum.value==263)?['\u02dc','\u0393']:''","labelLineHeight":5,"labelFont":"Liberation Serif","labelFontWeight":"bold","labelFontSize":20,"labelColor":"#111","labelFlush":false,"labelOverlap":false,"tickSize":-5,"tickColor":"#777","labelPadding":9,"domain":false,"grid":false,"title":null,"minExtent":28,"maxExtent":28}},
  "y":{"field":"E","type":"quantitative","scale":{"domain":[-80,80],"nice":false},"axis":{"orient":"left","values":[-80,-60,-40,-20,0,20,40,60,80],"labelExpr":"''+datum.value","labelFont":"Liberation Sans","labelFontSize":17,"labelColor":"#111","labelFlush":false,"tickSize":-5,"tickColor":"#777","labelPadding":11,"domain":false,"grid":false,"title":"Energy (meV)","titleFont":"Liberation Sans","titleFontSize":27,"titleFontWeight":"normal","titleColor":"#111","titleX":-60,"titleY":231.5,"titleAngle":-90,"titleAlign":"center","titleBaseline":"middle","minExtent":100,"maxExtent":100}},
  "detail":{"field":"c","type":"nominal"}
 }},
{"data":{"values":[{"q":234,"E":-1.6,"t":"Δ = 0 meV"},{"q":200,"E":-14.3,"t":"Δ = 10 meV"},{"q":200,"E":-19.2,"t":"Δ = 20 meV"},{"q":200,"E":-24.4,"t":"Δ = 30 meV"}]},
 "mark":{"type":"text","font":"Liberation Serif","fontSize":13,"color":"#333","align":"center","baseline":"middle"},
 "encoding":{
  "x":{"field":"q","type":"quantitative","scale":{"domain":[0,333],"nice":false,"zero":false},"axis":null},
  "y":{"field":"E","type":"quantitative","scale":{"domain":[-80,80],"nice":false},"axis":null},
  "text":{"field":"t"}
 }}
],
"resolve":{"axis":{"x":"independent","y":"independent"}}
},
{
"width":129,"height":463,
"title":{"text":"DOS","dy":-7.5},
"layer":[
{"data":{"name":"dos"},"transform":[{"filter":"datum.s == '30' && datum.f != 'none'"}],
 "mark":{"type":"area","orient":"horizontal","opacity":0.85},
 "encoding":{
  "x":{"field":"v","type":"quantitative","stack":null,"scale":{"domain":[0,2.33],"nice":false,"zero":true},"axis":{"orient":"bottom","values":[1,2],"labels":false,"tickSize":-5,"tickColor":"#777","domain":false,"grid":false,"title":null,"minExtent":0,"maxExtent":0}},
  "y":{"field":"E","type":"quantitative","scale":{"domain":[-80,80],"nice":false},"axis":null},
  "detail":{"field":"g","type":"nominal"},
  "fill":{"field":"f","type":"nominal","scale":{"domain":["gray","blue","peach","green","lblue"],"range":["#a5a9ac","#bfd5ea","#f3dcc3","#d9e1d7","#d2e3f3"]},"legend":null}
 }},
{"data":{"name":"dos"},"transform":[{"filter":"datum.s == '20' && datum.f != 'none'"}],
 "mark":{"type":"area","orient":"horizontal","opacity":0.85},
 "encoding":{
  "x":{"field":"v","type":"quantitative","stack":null,"scale":{"domain":[0,2.33],"nice":false,"zero":true},"axis":null},
  "y":{"field":"E","type":"quantitative","scale":{"domain":[-80,80],"nice":false},"axis":null},
  "detail":{"field":"g","type":"nominal"},
  "fill":{"field":"f","type":"nominal","legend":null}
 }},
{"data":{"name":"dos"},"transform":[{"filter":"datum.s == '10' && datum.f != 'none'"}],
 "mark":{"type":"area","orient":"horizontal","opacity":0.85},
 "encoding":{
  "x":{"field":"v","type":"quantitative","stack":null,"scale":{"domain":[0,2.33],"nice":false,"zero":true},"axis":null},
  "y":{"field":"E","type":"quantitative","scale":{"domain":[-80,80],"nice":false},"axis":null},
  "detail":{"field":"g","type":"nominal"},
  "fill":{"field":"f","type":"nominal","legend":null}
 }},
{"data":{"name":"dos"},"transform":[{"filter":"datum.s == '0'"}],
 "mark":{"type":"area","orient":"horizontal","opacity":0.85},
 "encoding":{
  "x":{"field":"v","type":"quantitative","stack":null,"scale":{"domain":[0,2.33],"nice":false,"zero":true},"axis":null},
  "y":{"field":"E","type":"quantitative","scale":{"domain":[-80,80],"nice":false},"axis":null},
  "detail":{"field":"g","type":"nominal"},
  "fill":{"field":"f","type":"nominal","legend":null}
 }},
{"data":{"name":"dos"},
 "mark":{"type":"line","strokeWidth":1.1,"clip":true},
 "encoding":{
  "x":{"field":"v","type":"quantitative","scale":{"domain":[0,2.33],"nice":false,"zero":true},"axis":{"orient":"top","values":[1,2],"labels":false,"tickSize":-5,"tickColor":"#777","domain":false,"grid":false,"title":null,"minExtent":0,"maxExtent":0}},
  "y":{"field":"E","type":"quantitative","scale":{"domain":[-80,80],"nice":false},"axis":{"orient":"right","values":[-80,-60,-40,-20,0,20,40,60,80],"labels":false,"tickSize":-5,"tickColor":"#777","domain":false,"grid":false,"title":null,"minExtent":0,"maxExtent":0}},
  "detail":{"field":"g","type":"nominal"},
  "order":{"field":"E","type":"quantitative"},
  "color":{"field":"s","type":"nominal","scale":{"domain":["0","10","20","30"],"range":["#111111","#555555","#555555","#666666"]},"legend":null},
  "strokeDash":{"field":"s","type":"nominal","scale":{"domain":["0","10","20","30"],"range":[[1,0],[5,3],[6,2.5,1.5,2.5],[1.3,2]]},"legend":null}
 }}
],
"resolve":{"axis":{"x":"independent"}}
}
]
}
